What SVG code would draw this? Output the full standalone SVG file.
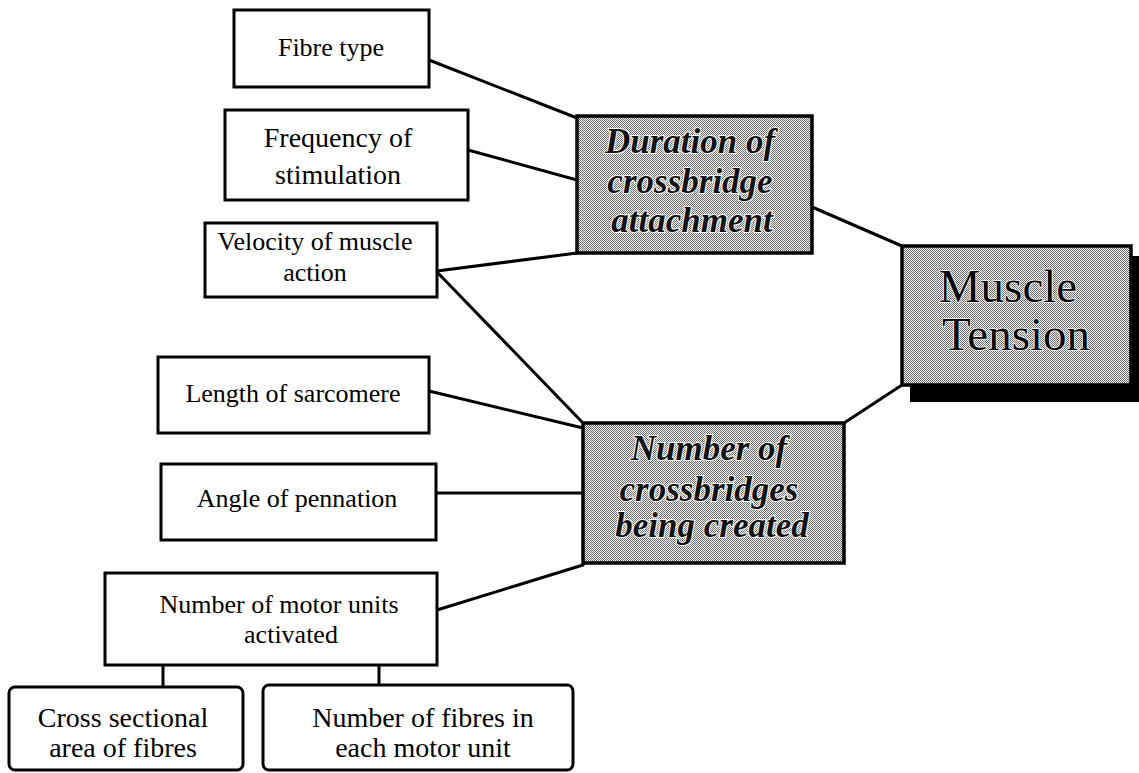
<svg xmlns="http://www.w3.org/2000/svg" width="1139" height="773" viewBox="0 0 1139 773">
<style>
.box{fill:#fff;stroke:#000;stroke-width:3}
.grey{fill:url(#dither);stroke:#000;stroke-width:3.5}
.t{font-family:"Liberation Serif","Times New Roman",serif;font-size:26px;fill:#000;text-anchor:middle}
.t28{font-size:28px}
.bi{font-family:"Liberation Serif","Times New Roman",serif;font-size:35px;font-weight:bold;font-style:italic;fill:#111;text-anchor:middle;stroke:#fff;stroke-width:2;paint-order:stroke}
.big{font-family:"Liberation Serif","Times New Roman",serif;font-size:47px;fill:#000;text-anchor:middle;stroke:#fff;stroke-width:1.5;paint-order:stroke}
.conn line{stroke:#000;stroke-width:3;stroke-linecap:round}
</style>
<defs>
<pattern id="dither" patternUnits="userSpaceOnUse" width="2" height="2">
<rect width="2" height="2" fill="#f6f6f6"/>
<rect x="0" y="0" width="1" height="1" fill="#6a6a6a"/>
<rect x="1" y="1" width="1" height="1" fill="#6a6a6a"/>
</pattern>
</defs>
<rect width="1139" height="773" fill="#fff"/>
<g class="conn">
<line x1="429" y1="60" x2="577" y2="118"/>
<line x1="468" y1="150" x2="577" y2="180"/>
<line x1="437" y1="271" x2="577" y2="253"/>
<line x1="437" y1="272" x2="583" y2="423"/>
<line x1="812" y1="207" x2="902" y2="246"/>
<line x1="844" y1="423" x2="902" y2="385"/>
<line x1="429" y1="391" x2="583" y2="428"/>
<line x1="436" y1="493" x2="583" y2="493"/>
<line x1="437" y1="610" x2="583" y2="565"/>
<line x1="163" y1="665" x2="163" y2="687"/>
<line x1="379" y1="665" x2="379" y2="685"/>
</g>
<g id="fibre-type">
<rect class="box" x="234" y="10" width="195" height="77"/>
<text class="t" x="331" y="56">Fibre type</text>
</g>
<g id="frequency">
<rect class="box" x="225" y="110" width="243" height="90"/>
<text class="t t28" x="338" y="147">Frequency of</text>
<text class="t t28" x="338" y="184">stimulation</text>
</g>
<g id="velocity">
<rect class="box" x="205" y="223" width="232" height="74"/>
<text class="t" x="315" y="250">Velocity of muscle</text>
<text class="t" x="315" y="281">action</text>
</g>
<g id="length">
<rect class="box" x="158" y="357" width="271" height="76"/>
<text class="t" x="293" y="402">Length of sarcomere</text>
</g>
<g id="angle">
<rect class="box" x="161" y="464" width="275" height="76"/>
<text class="t" x="297" y="507">Angle of pennation</text>
</g>
<g id="motor-units">
<rect class="box" x="105" y="573" width="332" height="92"/>
<text class="t" x="279" y="613">Number of motor units</text>
<text class="t" x="291" y="643">activated</text>
</g>
<g id="cross-sectional">
<rect class="box" x="9" y="687" width="234" height="83" rx="6"/>
<text class="t t28" x="123" y="727">Cross sectional</text>
<text class="t t28" x="123" y="757">area of fibres</text>
</g>
<g id="fibres-per-unit">
<rect class="box" x="263" y="685" width="310" height="85" rx="6"/>
<text class="t t28" x="423" y="727">Number of fibres in</text>
<text class="t t28" x="423" y="757">each motor unit</text>
</g>
<g id="duration">
<rect class="grey" x="577" y="116" width="235" height="137"/>
<text class="bi" x="690" y="153">Duration of</text>
<text class="bi" x="690" y="193">crossbridge</text>
<text class="bi" x="692" y="232">attachment</text>
</g>
<g id="crossbridges">
<rect class="grey" x="583" y="423" width="261" height="140"/>
<text class="bi" x="709" y="460">Number of</text>
<text class="bi" x="709" y="501">crossbridges</text>
<text class="bi" x="712" y="537">being created</text>
</g>
<g id="muscle-tension">
<rect x="910" y="256" width="240" height="146" fill="#000"/>
<rect class="grey" x="902" y="246" width="229" height="139"/>
<text class="big" x="1008" y="302">Muscle</text>
<text class="big" x="1016" y="350">Tension</text>
</g>
</svg>
